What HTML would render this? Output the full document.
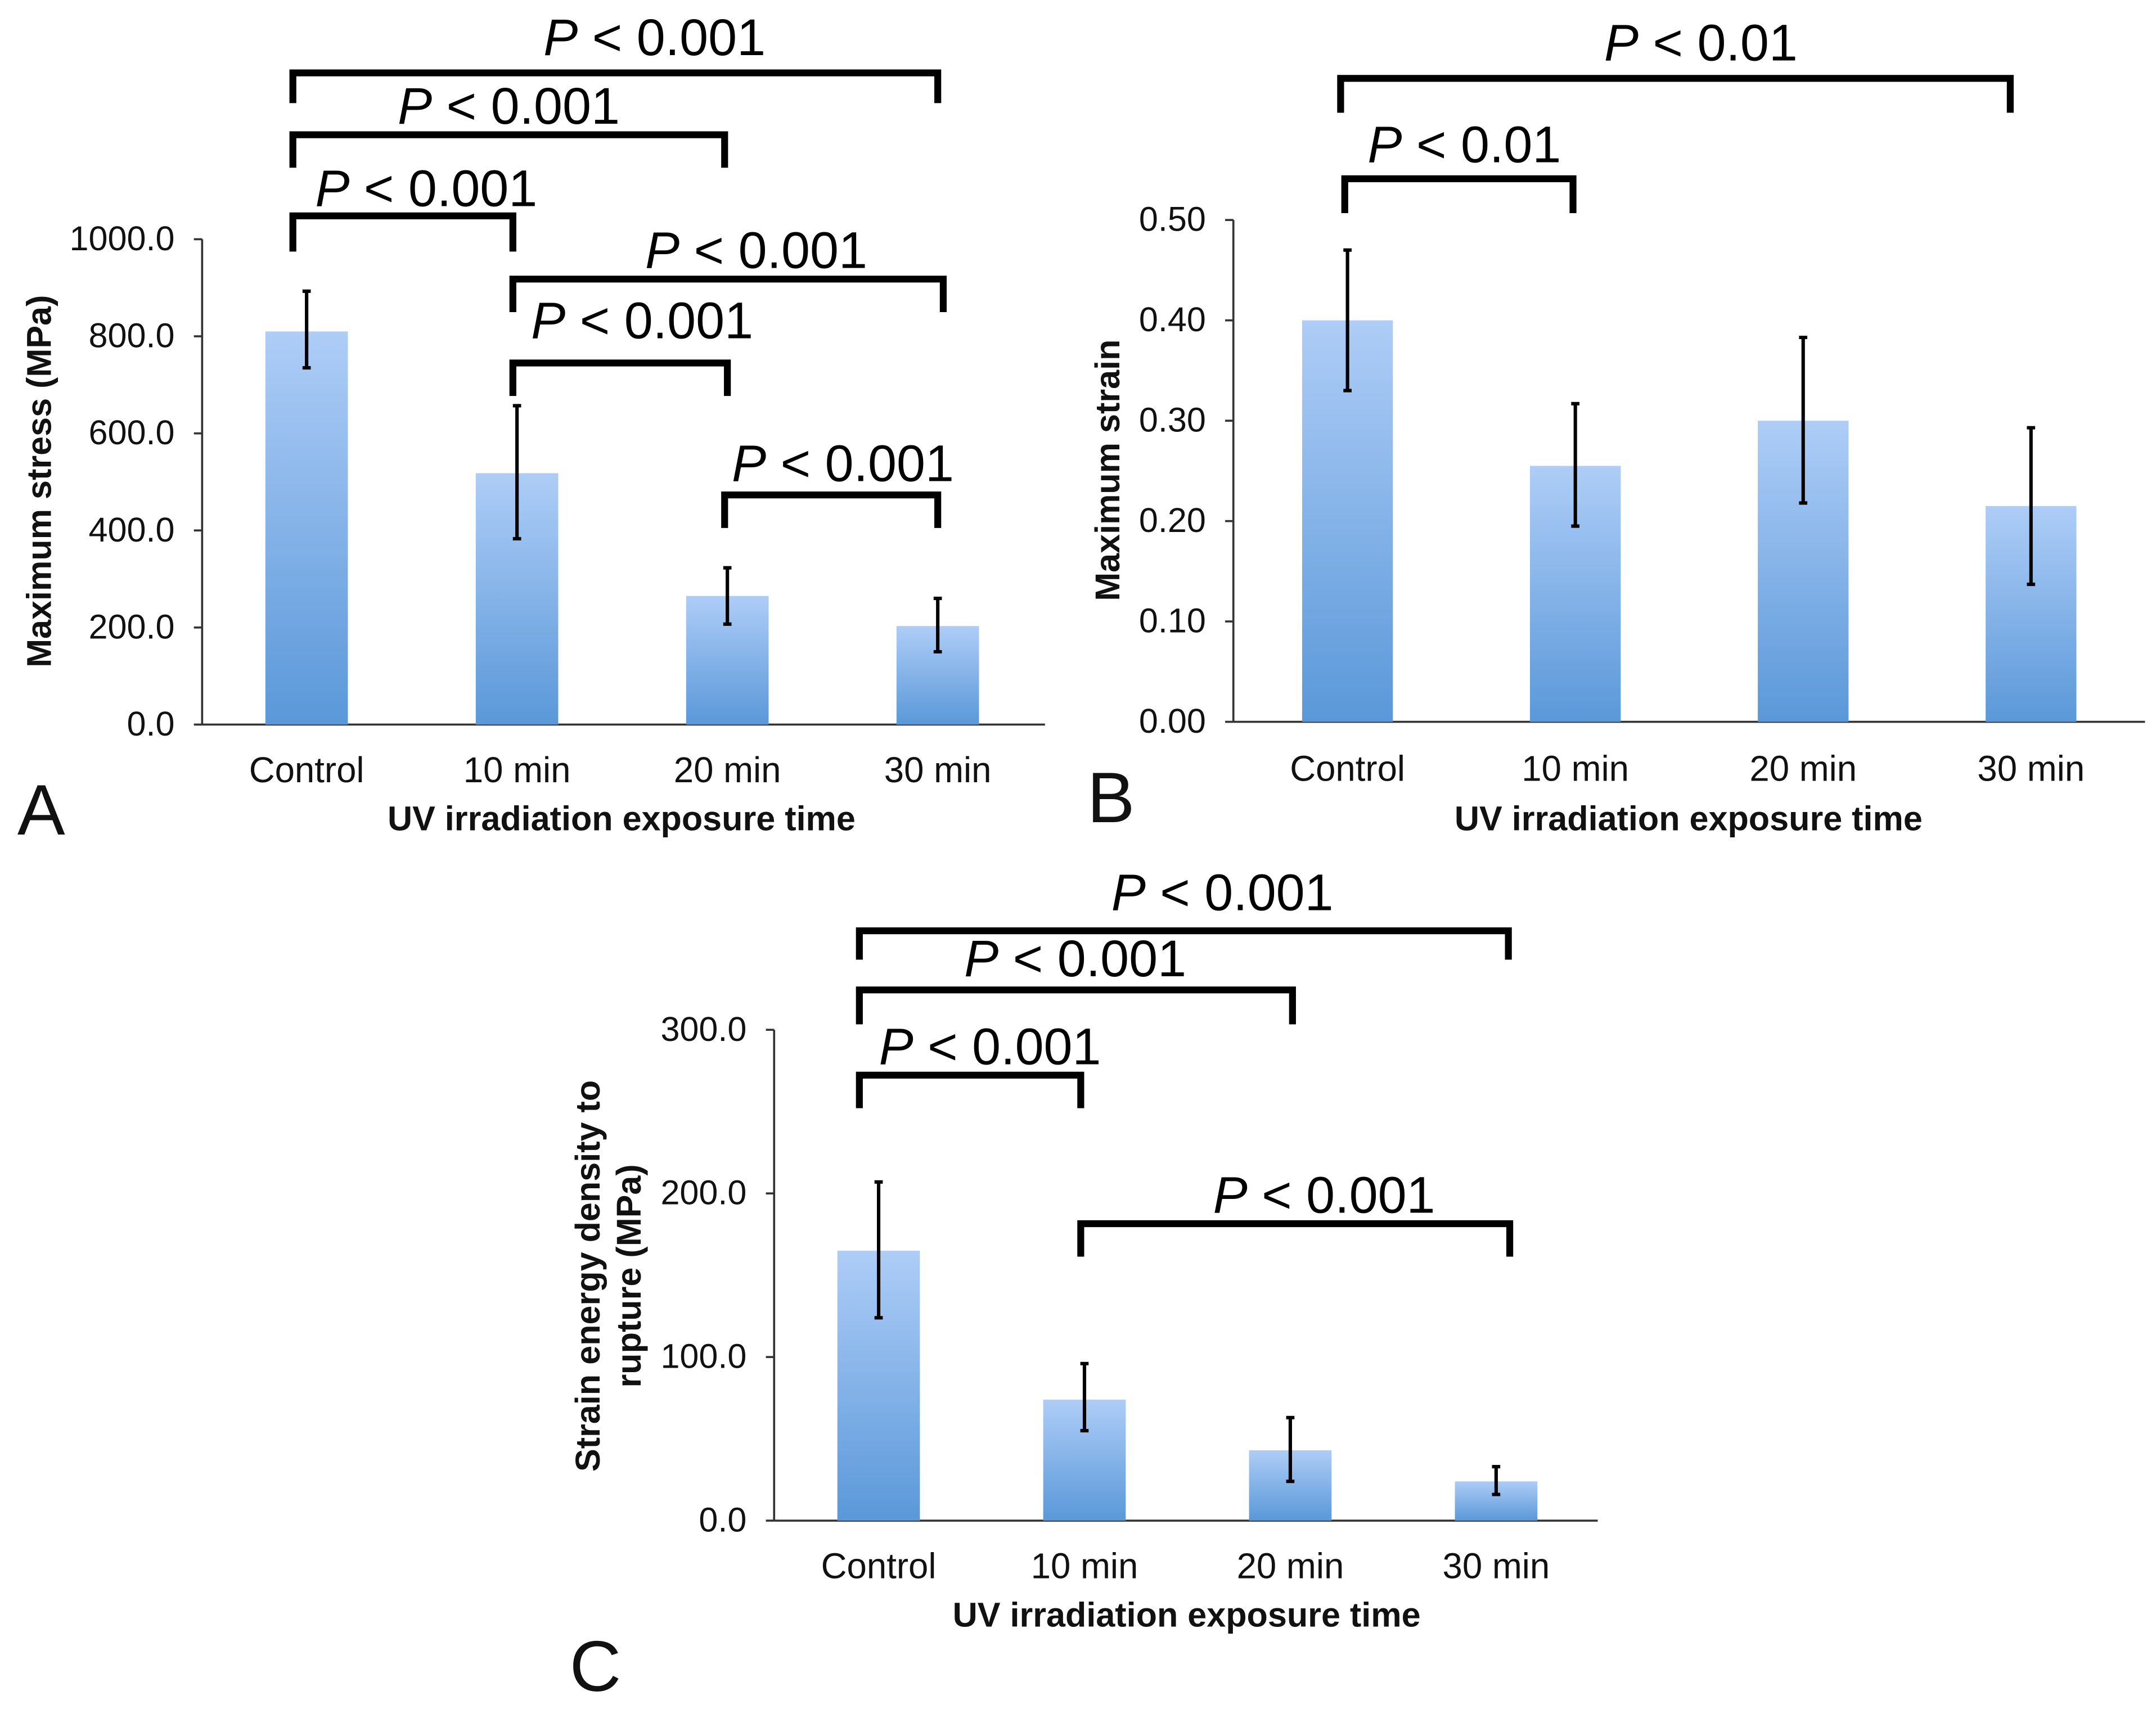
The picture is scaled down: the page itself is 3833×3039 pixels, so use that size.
<!DOCTYPE html>
<html><head><meta charset="utf-8"><style>html,body{margin:0;padding:0;background:#fff}svg{display:block}text{font-family:"Liberation Sans",Arial,sans-serif}</style></head>
<body>
<svg id="fig" xmlns="http://www.w3.org/2000/svg" width="3833" height="3039" viewBox="0 0 1568 1243" preserveAspectRatio="none">
<defs><linearGradient id="bg" x1="0" y1="0" x2="0" y2="1"><stop offset="0" stop-color="#aecdf7"/><stop offset="1" stop-color="#5a98d9"/></linearGradient></defs>
<rect width="1568" height="1243" fill="#fff"/>
</svg>
<script>
const categories=["Control","10 min","20 min","30 min"];
const stressValues=[810,518,265,203];
const stressLow=[735,383,207,150];
const stressHigh=[893,657,323,260];
const stressTicks=["0.0","200.0","400.0","600.0","800.0","1000.0"];
const strainValues=[0.40,0.255,0.30,0.215];
const strainLow=[0.33,0.195,0.218,0.137];
const strainHigh=[0.47,0.317,0.383,0.293];
const strainTicks=["0.00","0.10","0.20","0.30","0.40","0.50"];
const energyValues=[165,74,43,24];
const energyLow=[124,55,24,16];
const energyHigh=[207,96,63,33];
const energyTicks=["0.0","100.0","200.0","300.0"];
const stressSig=["P < 0.001","P < 0.001","P < 0.001","P < 0.001","P < 0.001","P < 0.001"];
const strainSig=["P < 0.01","P < 0.01"];
const energySig=["P < 0.001","P < 0.001","P < 0.001","P < 0.001"];

const svg=document.getElementById('fig');const NS="http://www.w3.org/2000/svg";
function mk(tag,attrs,parent){const e=document.createElementNS(NS,tag);for(const k in attrs)e.setAttribute(k,attrs[k]);(parent||svg).appendChild(e);return e;}
function txt(s,x,y,size,anchor,weight,parent,rot){const t=mk('text',{x:x,y:y,'font-size':size,'text-anchor':anchor||'middle','font-weight':weight||'normal',fill:'#111'},parent);if(rot)t.setAttribute('transform','rotate(-90 '+x+' '+y+')');t.textContent=s;return t;}
function sigText(s,x,y,parent){const t=mk('text',{x:x,y:y,'font-size':37.5,'text-anchor':'middle',fill:'#000'},parent);const i=mk('tspan',{'font-style':'italic'},t);i.textContent=s.slice(0,1);const r=mk('tspan',{},t);r.textContent=s.slice(1);return t;}

function panel(o){
 const g=mk('g',{});
 const yS=v=>o.y0-(v-0)/(o.max)*(o.y0-o.y1);
 const xS=i=>o.xc0+i*o.step;
 mk('line',{x1:o.ax,y1:o.y1,x2:o.ax,y2:o.y0,stroke:'#333','stroke-width':1.5},g);
 mk('line',{x1:o.ax,y1:o.y0,x2:o.xend,y2:o.y0,stroke:'#333','stroke-width':1.5},g);
 o.ticks.forEach((t,i)=>{const v=o.max*i/(o.ticks.length-1);const y=yS(v);
  mk('line',{x1:o.ax-6,y1:y,x2:o.ax,y2:y,stroke:'#333','stroke-width':1.5},g);
  const tt=txt(t,o.ax-20,y+8,25,'end','normal',g);});
 o.vals.forEach((v,i)=>{const x=xS(i);
  const r=mk('rect',{x:x-o.bw/2,y:yS(v),width:o.bw,height:o.y0-yS(v),fill:'url(#bg)'},g);
  
  const e=mk('path',{d:`M${x},${yS(o.low[i])}V${yS(o.high[i])}M${x-3},${yS(o.low[i])}H${x+3}M${x-3},${yS(o.high[i])}H${x+3}`,stroke:'#000','stroke-width':2.5,fill:'none'},g);
  
  const l=txt(categories[i],x,o.lab,26,'middle','normal',g);});
 const xt=txt('UV irradiation exposure time',o.xtx,o.xty,25,'middle','bold',g);
 o.ytitle.forEach((s,k)=>{const yt=txt(s,o.ytx+k*30,o.yty,25,'middle','bold',g,true);});
 o.br.forEach((b,k)=>{const p=mk('path',{d:`M${b[0]},${b[3]}V${b[2]}H${b[1]}V${b[3]}`,stroke:'#000','stroke-width':5,fill:'none'},g);
  
  const t=sigText(o.sig[k],b[4],b[5],g);});
 const L=txt(o.letter[0],o.letter[1],o.letter[2],52,'middle','normal',g);
}
panel({name:'panel-a-max-stress',ax:147,y0:527,y1:174,max:1000,xend:760,xc0:223,step:153,bw:60,vals:stressValues,low:stressLow,high:stressHigh,ticks:stressTicks,lab:569,xtx:452,xty:604,ytitle:['Maximum stress (MPa)'],ytx:37,yty:350,sig:stressSig,
 br:[[213,373,157,183,310,150],[213,527,98,122,370,90],[213,682,53,75,476,40],[373,686,203,227,550,195],[373,529,264,288,467,246],[527,682,360,384,613,350]],letter:['A',30,607]});
panel({name:'panel-b-max-strain',ax:897,y0:525,y1:160,max:0.5,xend:1560,xc0:980,step:165.7,bw:66,vals:strainValues,low:strainLow,high:strainHigh,ticks:strainTicks,lab:568,xtx:1228,xty:604,ytitle:['Maximum strain'],ytx:814,yty:342,sig:strainSig,
 br:[[978,1144,130,155,1065,118],[975,1462,57,82,1237,44]],letter:['B',808,598]});
panel({name:'panel-c-strain-energy',ax:563,y0:1106,y1:749,max:300,xend:1162,xc0:639,step:149.7,bw:60,vals:energyValues,low:energyLow,high:energyHigh,ticks:energyTicks,lab:1148,xtx:863,xty:1183,ytitle:['Strain energy density to','rupture (MPa)'],ytx:436,yty:928,sig:energySig,
 br:[[625,786,782,806,720,774],[625,940,720,745,782,710],[625,1097,677,698,889,662],[786,1098,890,914,963,882]],letter:['C',433,1230]});
</script>
</body></html>
